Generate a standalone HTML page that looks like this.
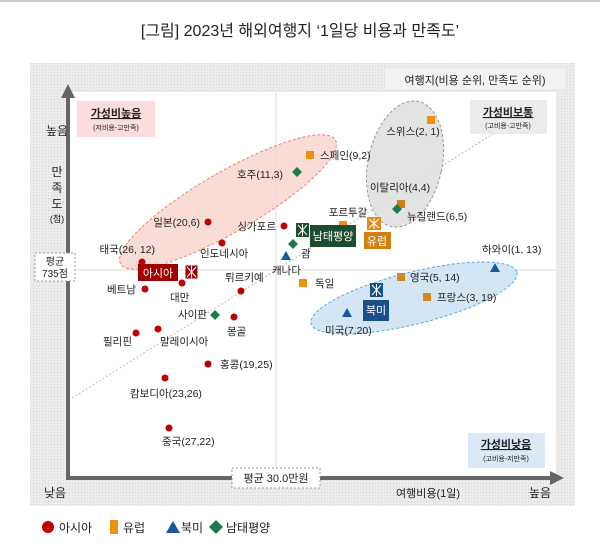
<!DOCTYPE html>
<html><head><meta charset="utf-8"><style>
html,body{margin:0;padding:0;background:#fff}
svg{display:block}
text{font-family:"Liberation Sans","Noto Sans CJK KR",sans-serif;fill:#222}
</style></head><body>
<svg width="600" height="548" viewBox="0 0 600 548" xmlns="http://www.w3.org/2000/svg">
<defs>
<pattern id="dots" width="3" height="3" patternUnits="userSpaceOnUse"><rect width="3" height="3" fill="#ececec"/><rect width="1" height="1" fill="#d4d4d4"/></pattern>
</defs>
<line x1="0" y1="1" x2="600" y2="1" stroke="#ccc" stroke-width="2"/>
<text x="300" y="36" text-anchor="middle" font-size="16" fill="#333">[그림] 2023년 해외여행지 ‘1일당 비용과 만족도’</text>
<rect x="30" y="63" width="545" height="443" fill="url(#dots)"/>
<rect x="70" y="92" width="486" height="386" fill="#fff"/>
<rect x="385" y="69" width="180" height="20" fill="#f2f2f2"/>
<text x="475" y="84" text-anchor="middle" font-size="11" fill="#333">여행지(비용 순위, 만족도 순위)</text>
<line x1="276" y1="92" x2="276" y2="478" stroke="#ddd" stroke-width="1"/>
<line x1="70" y1="270" x2="556" y2="270" stroke="#ddd" stroke-width="1"/>
<line x1="72" y1="398" x2="547" y2="100" stroke="#bbb" stroke-width="1" stroke-dasharray="2,2"/>
<rect x="77" y="101" width="78" height="36" fill="#fcdcdc"/>
<text x="116" y="117" text-anchor="middle" font-size="11" font-weight="bold" text-decoration="underline">가성비높음</text>
<text x="116" y="130" text-anchor="middle" font-size="7">(저비용-고만족)</text>
<rect x="470" y="100" width="77" height="34" fill="#ebebeb"/>
<text x="508" y="116" text-anchor="middle" font-size="11" font-weight="bold" text-decoration="underline">가성비보통</text>
<text x="508" y="128" text-anchor="middle" font-size="7">(고비용-고만족)</text>
<rect x="468" y="433" width="77" height="35" fill="#dbe8f5"/>
<text x="506" y="448" text-anchor="middle" font-size="11" font-weight="bold" text-decoration="underline">가성비낮음</text>
<text x="506" y="461" text-anchor="middle" font-size="7">(고비용-저만족)</text>
<ellipse cx="228" cy="202" rx="124" ry="30" transform="rotate(-30 228 202)" fill="#f9d3cc" fill-opacity="0.8" stroke="#f08070" stroke-dasharray="3,2"/>
<ellipse cx="405" cy="164" rx="37" ry="64" transform="rotate(12 405 164)" fill="#e0e0e0" fill-opacity="0.9" stroke="#999" stroke-dasharray="3,2"/>
<ellipse cx="414" cy="298" rx="106" ry="26" transform="rotate(-14 414 298)" fill="#cfe2f3" fill-opacity="0.9" stroke="#4fb0e0" stroke-dasharray="3,2"/>
<line x1="68" y1="480" x2="68" y2="96" stroke="#666" stroke-width="4"/>
<path d="M61,98 L68,84 L75,98z" fill="#666"/>
<line x1="66" y1="478" x2="552" y2="478" stroke="#666" stroke-width="4"/>
<path d="M550,471 L564,478 L550,485z" fill="#666"/>
<text x="57" y="135" text-anchor="middle" font-size="12">높음</text>
<text x="57" y="176" text-anchor="middle" font-size="12">만</text>
<text x="57" y="192" text-anchor="middle" font-size="12">족</text>
<text x="57" y="208" text-anchor="middle" font-size="12">도</text>
<text x="57" y="222" text-anchor="middle" font-size="9">(점)</text>
<text x="55" y="497" text-anchor="middle" font-size="12">낮음</text>
<text x="428" y="497" text-anchor="middle" font-size="11">여행비용(1일)</text>
<text x="540" y="497" text-anchor="middle" font-size="12">높음</text>
<rect x="35" y="253" width="40" height="28" fill="#fff" stroke="#999" stroke-dasharray="2,2"/>
<text x="55" y="265" text-anchor="middle" font-size="10">평균</text>
<text x="55" y="277" text-anchor="middle" font-size="10">735점</text>
<rect x="232" y="468" width="88" height="20" fill="#fff" stroke="#999" stroke-dasharray="2,2"/>
<text x="276" y="482" text-anchor="middle" font-size="11">평균 30.0만원</text>
<g fill="#c00000">
<circle cx="208" cy="222" r="3.5"/><circle cx="222" cy="243" r="3.5"/><circle cx="284" cy="226" r="3.5"/>
<circle cx="142" cy="262" r="3.5"/><circle cx="182" cy="283" r="3.5"/><circle cx="145" cy="289" r="3.5"/>
<circle cx="241" cy="291" r="3.5"/><circle cx="234" cy="317" r="3.5"/><circle cx="136" cy="333" r="3.5"/>
<circle cx="158" cy="329" r="3.5"/><circle cx="208" cy="364" r="3.5"/><circle cx="165" cy="378" r="3.5"/>
<circle cx="169" cy="428" r="3.5"/>
</g>
<g font-size="10.5">
<text x="200" y="226" text-anchor="end">일본(20,6)</text>
<text x="200" y="257">인도네시아</text>
<text x="276" y="230" text-anchor="end">싱가포르</text>
<text x="155" y="253" text-anchor="end">태국(26, 12)</text>
<text x="107" y="293">베트남</text>
<text x="170" y="301">대만</text>
<text x="225" y="281">튀르키예</text>
<text x="178" y="318">사이판</text>
<text x="227" y="335">몽골</text>
<text x="103" y="345">필리핀</text>
<text x="160" y="345">말레이시아</text>
<text x="220" y="368">홍콩(19,25)</text>
<text x="130" y="397">캄보디아(23,26)</text>
<text x="162" y="445">중국(27,22)</text>
<text x="237" y="178">호주(11,3)</text>
<text x="320" y="159">스페인(9,2)</text>
<text x="301" y="257">괌</text>
<text x="272" y="274">캐나다</text>
<text x="315" y="287">독일</text>
<text x="413" y="135" text-anchor="middle">스위스(2, 1)</text>
<text x="400" y="191" text-anchor="middle">이탈리아(4,4)</text>
<text x="407" y="220">뉴질랜드(6,5)</text>
<text x="348" y="216" text-anchor="middle">포르투갈</text>
<text x="482" y="253">하와이(1, 13)</text>
<text x="410" y="281">영국(5, 14)</text>
<text x="437" y="301">프랑스(3, 19)</text>
<text x="325" y="334">미국(7,20)</text>
</g>
<g fill="#f0900a">
<rect x="306" y="151" width="8" height="8"/><rect x="427" y="116" width="8" height="8"/>
<rect x="397" y="200" width="8" height="8" fill="#d08010"/><rect x="339" y="221" width="8" height="8"/>
<rect x="299" y="279" width="8" height="8"/><rect x="397" y="273" width="8" height="8" fill="#d08a20"/>
<rect x="423" y="293" width="8" height="8" fill="#d08a20"/>
</g>
<g fill="#1e7a4a">
<path d="M297,167 l5,5 -5,5 -5,-5z"/><path d="M293,239 l5,5 -5,5 -5,-5z"/>
<path d="M397,204 l5,5 -5,5 -5,-5z"/><path d="M215,310 l5,5 -5,5 -5,-5z"/>
</g>
<g fill="#1a56a0">
<path d="M286,251 l5,9 -10,0z"/><path d="M495,263 l5,9 -10,0z"/><path d="M347,308 l5,9 -10,0z"/>
</g>
<rect x="138" y="264" width="40" height="17" fill="#a00000"/>
<text x="158" y="277" text-anchor="middle" font-size="11" style="fill:#fff">아시아</text>
<rect x="185" y="265" width="13" height="14" fill="#a00000" stroke="#fff"/>
<path d="M187,267 l9,10 M196,267 l-9,10 M191.5,266 v12" stroke="#fff"/>
<rect x="296" y="223" width="13" height="14" fill="#1d4d2f"/>
<path d="M298,225 l9,10 M307,225 l-9,10 M302.5,224 v12" stroke="#fff"/>
<rect x="310" y="225" width="46" height="22" fill="#1d4d2f"/>
<text x="333" y="240" text-anchor="middle" font-size="11" style="fill:#fff">남태평양</text>
<rect x="367" y="217" width="14" height="13" fill="#e08a1a"/>
<path d="M369,219 l10,9 M379,219 l-10,9 M374,218 v11" stroke="#fff"/>
<rect x="364" y="232" width="27" height="17" fill="#d08010"/>
<text x="377" y="245" text-anchor="middle" font-size="11" style="fill:#fff">유럽</text>
<rect x="370" y="283" width="13" height="14" fill="#1a4f8a"/>
<path d="M372,285 l9,10 M381,285 l-9,10 M376.5,284 v12" stroke="#fff"/>
<rect x="363" y="300" width="26" height="21" fill="#1a4f8a"/>
<text x="376" y="314" text-anchor="middle" font-size="11" style="fill:#fff">북미</text>
<circle cx="48" cy="527" r="6" fill="#c00000"/>
<text x="59" y="532" font-size="12">아시아</text>
<rect x="110" y="520" width="8" height="14" fill="#f0900a"/>
<text x="123" y="532" font-size="12">유럽</text>
<path d="M166,533 l7,-12 7,12z" fill="#1a56a0"/>
<text x="181" y="532" font-size="12">북미</text>
<path d="M216,520 l7,7 -7,7 -7,-7z" fill="#1e7a4a"/>
<text x="226" y="532" font-size="12">남태평양</text>
</svg>
</body></html>
